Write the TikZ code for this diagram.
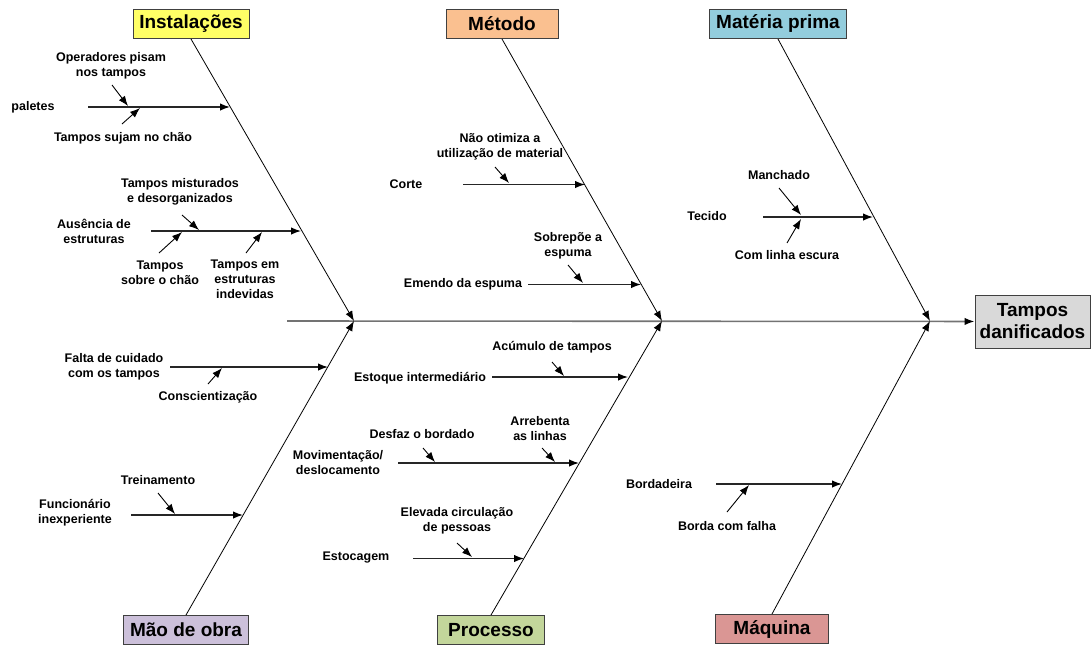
\documentclass[tikz,border=0pt]{standalone}
\usepackage{fontspec}
\setmainfont{Liberation Sans}
\usetikzlibrary{arrows.meta}
\definecolor{instcol}{RGB}{255,255,102}
\definecolor{metcol}{RGB}{250,192,144}
\definecolor{matcol}{RGB}{147,205,221}
\definecolor{maocol}{RGB}{204,192,218}
\definecolor{proccol}{RGB}{195,214,155}
\definecolor{maqcol}{RGB}{218,150,148}
\definecolor{effcol}{RGB}{217,217,217}

\begin{document}
\begin{tikzpicture}[x=1pt,y=-1pt,>={Latex[length=10pt,width=7.5pt,color=black]},inner sep=1pt,
  cat/.style={draw=black!75,line width=1pt,minimum height=29pt,font=\fontsize{19}{22}\selectfont\bfseries},
  lbl/.style={align=center,font=\fontsize{12.5}{15}\selectfont\bfseries},
  rib/.style={->,line width=0.8pt},
  sub/.style={->,line width=1.4pt,draw=black!85},
  tiny/.style={->,line width=0.9pt}]
\useasboundingbox (0,0) rectangle (1091,646);
\node[cat,fill=instcol,minimum width=116pt] (inst) at (191,24) {Instalações};
\node[cat,fill=metcol,minimum width=112pt] (met) at (502,24) {Método};
\node[cat,fill=matcol,minimum width=137pt] (mat) at (778,24) {Matéria prima};
\node[cat,fill=maocol,minimum width=125pt] (mao) at (186,630) {Mão de obra};
\node[cat,fill=proccol,minimum width=107pt] (proc) at (491,630) {Processo};
\node[cat,fill=maqcol,minimum width=113pt] (maq) at (772,629) {Máquina};
\node[cat,fill=effcol,align=center,minimum width=115pt,minimum height=53pt,
  font=\fontsize{19}{22}\selectfont\bfseries] (eff) at (1032.5,321.5) {Tampos\\danificados};
%
\coordinate (tail) at (287,321);
\coordinate (hi) at (354,321);
\coordinate (hm) at (662,321);
\coordinate (hr) at (930,321);
%% Instalacoes
\node[lbl] (pal) at (33,107) {paletes};
\coordinate (pal0) at (88,107); \coordinate (pal1) at (230,107);
\node[lbl] (ops) at (111,66) {Operadores pisam\\nos tampos};
\coordinate (ops0) at (112,85); \coordinate (ops1) at (128,106);
\node[lbl] (suj) at (123,138) {Tampos sujam no chão};
\coordinate (suj0) at (122,124); \coordinate (suj1) at (140,108);
\node[lbl] (aus) at (94,231) {Ausência de\\estruturas};
\coordinate (aus0) at (151,231); \coordinate (aus1) at (301,231);
\node[lbl] (mis) at (180,192) {Tampos misturados\\e desorganizados};
\coordinate (mis0) at (182,215); \coordinate (mis1) at (199,230);
\node[lbl] (sob) at (160,273) {Tampos\\sobre o chão};
\coordinate (sob0) at (159,253); \coordinate (sob1) at (182,232);
\node[lbl] (ind) at (245,279) {Tampos em\\estruturas\\indevidas};
\coordinate (ind0) at (246,253); \coordinate (ind1) at (262,232);
%% Metodo
\node[lbl] (cor) at (406,184) {Corte};
\coordinate (cor0) at (463,184.5); \coordinate (cor1) at (585,184.5);
\node[lbl] (oti) at (500,147) {Não otimiza a\\utilização de material};
\coordinate (oti0) at (495,167); \coordinate (oti1) at (509,183);
\node[lbl] (eme) at (463,284) {Emendo da espuma};
\coordinate (eme0) at (528,284.5); \coordinate (eme1) at (641,284.5);
\node[lbl] (sop) at (568,246) {Sobrepõe a\\espuma};
\coordinate (sop0) at (568,265); \coordinate (sop1) at (583,283);
%% Materia prima
\node[lbl] (tec) at (707,216) {Tecido};
\coordinate (tec0) at (763,217); \coordinate (tec1) at (873,217);
\node[lbl] (man) at (779,175) {Manchado};
\coordinate (man0) at (779,188); \coordinate (man1) at (801,215);
\node[lbl] (esc) at (787,255) {Com linha escura};
\coordinate (esc0) at (787,243); \coordinate (esc1) at (801,219);
%% Mao de obra
\node[lbl] (fal) at (114,367) {Falta de cuidado\\com os tampos};
\coordinate (fal0) at (170,367); \coordinate (fal1) at (328,367);
\node[lbl] (con) at (208,397) {Conscientização};
\coordinate (con0) at (208,384); \coordinate (con1) at (222,368);
\node[lbl] (fun) at (75,513) {Funcionário\\inexperiente};
\coordinate (fun0) at (131,515); \coordinate (fun1) at (243,515);
\node[lbl] (tre) at (158,480) {Treinamento};
\coordinate (tre0) at (158,493); \coordinate (tre1) at (175,514);
%% Processo
\node[lbl] (est) at (420,378) {Estoque intermediário};
\coordinate (est0) at (492,377); \coordinate (est1) at (628,377);
\node[lbl] (acu) at (552,347) {Acúmulo de tampos};
\coordinate (acu0) at (552,362); \coordinate (acu1) at (564,376);
\node[lbl] (mov) at (338,463) {Movimentação/\\deslocamento};
\coordinate (mov0) at (398,463); \coordinate (mov1) at (579,463);
\node[lbl] (des) at (422,434) {Desfaz o bordado};
\coordinate (des0) at (423,448); \coordinate (des1) at (435,462);
\node[lbl] (arr) at (540,429) {Arrebenta\\as linhas};
\coordinate (arr0) at (542,448); \coordinate (arr1) at (555,462);
\node[lbl] (stk) at (356,558) {Estocagem};
\coordinate (stk0) at (413,558.5); \coordinate (stk1) at (524,558.5);
\node[lbl] (cir) at (457,521) {Elevada circulação\\de pessoas};
\coordinate (cir0) at (457,543); \coordinate (cir1) at (472,557);
%% Maquina
\node[lbl] (bor) at (659,484) {Bordadeira};
\coordinate (bor0) at (716,484); \coordinate (bor1) at (842,484);
\node[lbl] (fa) at (727,526) {Borda com falha};
\coordinate (fa0) at (727,512); \coordinate (fa1) at (749,485);
%%
\draw[->,line width=1.6pt,draw=black!55] (tail) -- (eff);
\draw[rib] (inst.south) -- (hi);
\draw[rib] (mao.north) -- (hi);
\draw[rib] (met.south) -- (hm);
\draw[rib] (proc.north) -- (hm);
\draw[rib] (mat.south) -- (hr);
\draw[rib] (maq.north) -- (hr);
%
\draw[sub] (pal0) -- (pal1);
\draw[sub] (aus0) -- (aus1);
\draw[sub] (cor0) -- (cor1);
\draw[sub] (eme0) -- (eme1);
\draw[sub] (tec0) -- (tec1);
\draw[sub] (fal0) -- (fal1);
\draw[sub] (fun0) -- (fun1);
\draw[sub] (est0) -- (est1);
\draw[sub] (mov0) -- (mov1);
\draw[sub] (stk0) -- (stk1);
\draw[sub] (bor0) -- (bor1);
%
\draw[tiny] (ops0) -- (ops1);
\draw[tiny] (suj0) -- (suj1);
\draw[tiny] (mis0) -- (mis1);
\draw[tiny] (sob0) -- (sob1);
\draw[tiny] (ind0) -- (ind1);
\draw[tiny] (oti0) -- (oti1);
\draw[tiny] (sop0) -- (sop1);
\draw[tiny] (man0) -- (man1);
\draw[tiny] (esc0) -- (esc1);
\draw[tiny] (con0) -- (con1);
\draw[tiny] (tre0) -- (tre1);
\draw[tiny] (acu0) -- (acu1);
\draw[tiny] (des0) -- (des1);
\draw[tiny] (arr0) -- (arr1);
\draw[tiny] (cir0) -- (cir1);
\draw[tiny] (fa0) -- (fa1);
\end{tikzpicture}
\end{document}
